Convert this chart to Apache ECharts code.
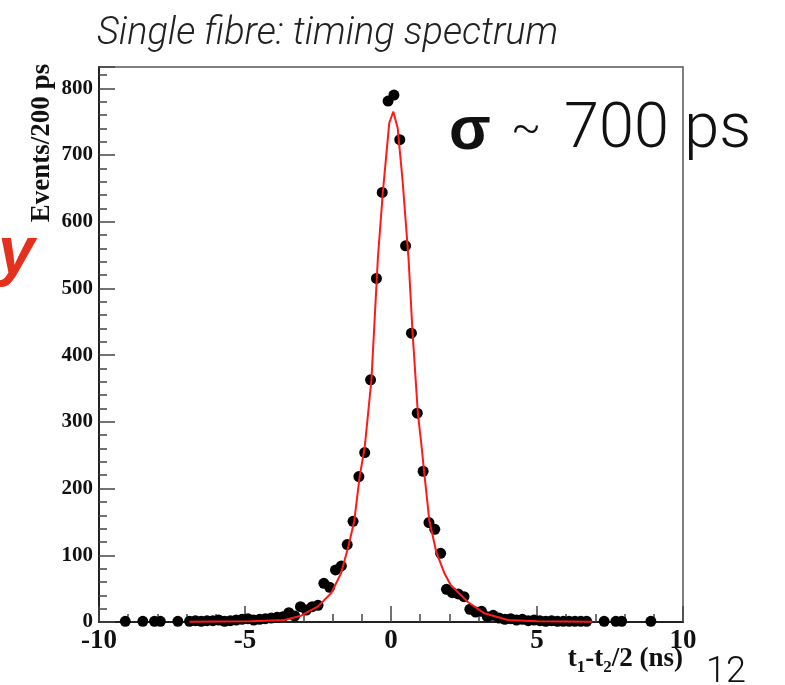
<!DOCTYPE html>
<html>
<head>
<meta charset="utf-8">
<script src="https://cdn.jsdelivr.net/npm/echarts@6/dist/echarts.min.js"></script>
<style>
  html, body { margin: 0; padding: 0; background: #fff; }
  #chart { width: 785px; height: 685px; }
</style>
</head>
<body>
<div id="chart"></div>
<script>
// Single fibre timing spectrum, 200 ps bins
const binCenters = [
    -9.1, -8.5, -8.1, -7.9, -7.3,
    -6.9, -6.7, -6.5, -6.3, -6.1, -5.9, -5.7, -5.5, -5.3, -5.1,
    -4.9, -4.7, -4.5, -4.3, -4.1, -3.9, -3.7, -3.5, -3.3, -3.1,
    -2.9, -2.7, -2.5, -2.3, -2.1, -1.9, -1.7, -1.5, -1.3, -1.1,
    -0.9, -0.7, -0.5, -0.3, -0.1, 0.1, 0.3, 0.5, 0.7, 0.9,
    1.1, 1.3, 1.5, 1.7, 1.9, 2.1, 2.3, 2.5, 2.7, 2.9,
    3.1, 3.3, 3.5, 3.7, 3.9, 4.1, 4.3, 4.5, 4.7, 4.9,
    5.1, 5.3, 5.5, 5.7, 5.9, 6.1, 6.3, 6.5, 6.7,
    7.3, 7.7, 7.9, 8.9
];
const counts = [
    1, 1, 1, 1, 1,
    1, 2, 1, 2, 2, 3, 1, 2, 3, 4,
    5, 3, 4, 5, 6, 7, 8, 14, 9, 23,
    18, 23, 25, 58, 52, 78, 84, 116, 151, 218,
    254, 363, 515, 644, 781, 790, 723, 564, 433, 313,
    226, 149, 139, 103, 49, 44, 42, 38, 19, 15,
    16, 8, 10, 6, 4, 5, 3, 4, 2, 3,
    2, 1, 2, 1, 1, 1, 1, 1, 1,
    1, 1, 1, 1
];

// fitted curve
const fitX = [
    -6.9, -4.8, -3.65, -3.08, -2.51, -2.05, -1.71, -1.45, -1.26, -1.07,
    -0.9, -0.67, -0.45, -0.28, -0.06, 0.08, 0.23, 0.4, 0.6, 0.74,
    0.92, 1.05, 1.14, 1.31, 1.55, 1.83, 2.05, 2.63, 3.2, 4.0,
    5.0, 6.9
];
const fitY = [
    0.3, 1, 3, 9.5, 23, 43, 73, 115, 151, 219,
    262, 363, 545, 644, 748, 765, 740, 660, 545, 433,
    313, 262, 223, 153, 105, 73, 55, 30, 13, 3,
    1, 0.5
];

const xTicks = [-10, -5, 0, 5, 10];
const yTicks = [0, 100, 200, 300, 400, 500, 600, 700, 800];

const serif = '"Liberation Serif", "Times New Roman", serif';
const light = 'Roboto, "Liberation Sans", sans-serif';
const chart = echarts.init(document.getElementById('chart'), null, { renderer: 'canvas' });

const points = binCenters.map((x, i) => [x, counts[i]]);
const fitLine = fitX.map((x, i) => [x, fitY[i]]);

chart.setOption({
    backgroundColor: '#fff',
    animation: false,
    grid: {
        left: 99, right: 102, top: 67, bottom: 63,
        show: true, borderColor: '#555', borderWidth: 1.5,
        backgroundColor: 'transparent'
    },
    xAxis: {
        type: 'value',
        min: xTicks[0],
        max: xTicks[xTicks.length - 1],
        interval: 5,
        axisLine: { show: true, onZero: false, lineStyle: { color: '#222', width: 2 } },
        axisTick: { show: true, inside: true, length: 16, lineStyle: { color: '#444', width: 1.5 } },
        minorTick: { show: true, splitNumber: 5, length: 8, lineStyle: { color: '#444', width: 1.5 } },
        splitLine: { show: false },
        axisLabel: {
            color: '#111', fontFamily: serif, fontWeight: 'bold', fontSize: 27, margin: 6
        }
    },
    yAxis: {
        type: 'value',
        min: 0,
        max: 832,
        interval: 100,
        axisLine: { show: true, onZero: false, lineStyle: { color: '#222', width: 2 } },
        axisTick: { show: true, inside: true, length: 16, lineStyle: { color: '#444', width: 1.5 } },
        minorTick: { show: true, splitNumber: 5, length: 8, lineStyle: { color: '#444', width: 1.5 } },
        splitLine: { show: false },
        axisLabel: {
            color: '#111', fontFamily: serif, fontWeight: 'bold', fontSize: 21, margin: 6,
            showMaxLabel: false,
            formatter: (v) => (yTicks.includes(v) ? String(v) : '')
        }
    },
    series: [
        {
            name: 'data',
            type: 'scatter',
            data: points,
            symbol: 'circle',
            symbolSize: 11,
            itemStyle: { color: '#000', opacity: 1 },
            z: 2
        },
        {
            name: 'fit',
            type: 'line',
            data: fitLine,
            showSymbol: false,
            smooth: false,
            lineStyle: { color: '#ff1a1a', width: 2 },
            z: 3
        }
    ],
    graphic: [
        {
            type: 'text', left: 97, top: 15,
            style: {
                text: 'Single fibre: timing spectrum',
                fontFamily: light, fontStyle: 'italic', fontWeight: 300, fontSize: 38, fill: '#222'
            }
        },
        {
            type: 'text', x: 449, y: 132,
            style: {
                text: 'σ', verticalAlign: 'middle',
                fontFamily: '"Liberation Sans", Arial, sans-serif', fontWeight: 'bold', fontSize: 61, fill: '#111'
            }
        },
        {
            type: 'text', x: 511, y: 131,
            style: {
                text: '~', verticalAlign: 'middle',
                fontFamily: light, fontWeight: 300, fontSize: 44, fill: '#111'
            }
        },
        {
            type: 'text', x: 564, y: 131,
            style: {
                text: '700 ps', verticalAlign: 'middle',
                fontFamily: light, fontWeight: 300, fontSize: 63, fill: '#111'
            }
        },
        {
            type: 'text', x: -2, y: 222,
            style: {
                text: 'y',
                fontFamily: '"Liberation Sans", Arial, sans-serif',
                fontStyle: 'italic', fontWeight: 'bold', fontSize: 66, fill: '#e4301c'
            }
        },
        {
            type: 'text', x: 42, y: 143, rotation: Math.PI / 2,
            style: {
                text: 'Events/200 ps',
                fontFamily: serif, fontWeight: 'bold', fontSize: 27, fill: '#111',
                align: 'center', verticalAlign: 'middle'
            }
        },
        {
            type: 'text', x: 683, y: 661,
            style: {
                text: '{a|t}{b|1}{a|-t}{b|2}{a|/2 (ns)}',
                align: 'right', verticalAlign: 'middle',
                rich: {
                    a: { fontFamily: serif, fontWeight: 'bold', fontSize: 27, fill: '#111', verticalAlign: 'top' },
                    b: { fontFamily: serif, fontWeight: 'bold', fontSize: 17, fill: '#111', verticalAlign: 'bottom', padding: [13, 0, 0, 0] }
                }
            }
        },
        {
            type: 'text', x: 706, y: 655,
            style: {
                text: '12',
                fontFamily: light, fontWeight: 300, fontSize: 36, fill: '#111'
            }
        }
    ]
});
</script>
</body>
</html>
